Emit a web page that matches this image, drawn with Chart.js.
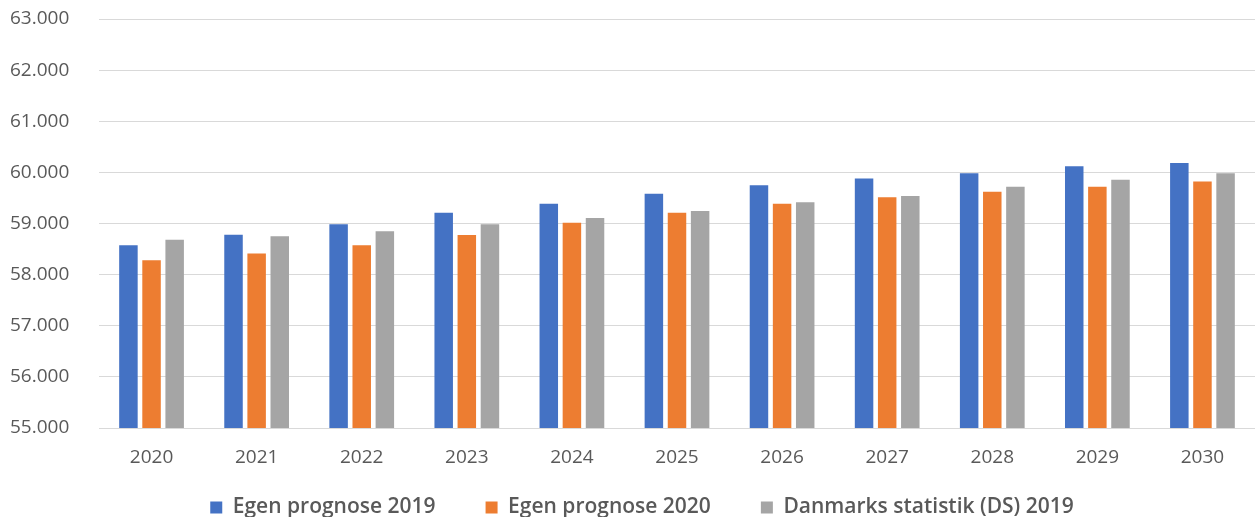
<!DOCTYPE html>
<html>
<head>
<meta charset="utf-8">
<script src="https://cdn.jsdelivr.net/npm/chart.js@4.4.1/dist/chart.umd.min.js"></script>
<style>
html,body{margin:0;padding:0;background:#fff;}
#wrap{width:1255px;height:517px;position:relative;}
</style>
</head>
<body>
<div id="wrap"><canvas id="c" width="1255" height="517"></canvas></div>
<script>
const categories = ['2020','2021','2022','2023','2024','2025','2026','2027','2028','2029','2030'];
const egen2019 = [58575, 58780, 58985, 59210, 59385, 59580, 59750, 59880, 59985, 60120, 60185];
const egen2020 = [58280, 58415, 58575, 58775, 59015, 59210, 59385, 59515, 59620, 59720, 59820];
const ds2019   = [58680, 58750, 58850, 58985, 59110, 59245, 59415, 59540, 59720, 59855, 59985];
const seriesNames = ['Egen prognose 2019', 'Egen prognose 2020', 'Danmarks statistik (DS) 2019'];
const colors = ['#4472C4', '#ED7D31', '#A5A5A5'];
const yMin = 55000, yMax = 63000, yStep = 1000;

function fmt(v){
  const s = Math.round(v).toString();
  return s.replace(/\B(?=(\d{3})+(?!\d))/g, '.');
}

const ds = [egen2019, egen2020, ds2019].map((d,i)=>({
  label: seriesNames[i],
  data: d,
  backgroundColor: colors[i],
  borderColor: '#ffffff',
  borderWidth: 0,
  categoryPercentage: 0.66,
  barPercentage: 0.8
}));

new Chart(document.getElementById('c'), {
  type: 'bar',
  data: { labels: categories, datasets: ds },
  options: {
    responsive: false,
    animation: false,
    layout: { padding: { left: 10, right: -19, top: 19, bottom: -11 } },
    plugins: {
      tooltip: { enabled: false },
      legend: {
        position: 'bottom',
        labels: {
          font: { family: 'Open Sans', size: 21, weight: '600' },
          color: '#595959',
          boxWidth: 12,
          boxHeight: 12,
          padding: 50
        }
      }
    },
    scales: {
      x: {
        afterFit: (s) => { s.height = 19; s._computeLabelArea = () => undefined; },
        grid: { display: false, drawTicks: false },
        border: { color: '#d9d9d9', width: 1 },
        ticks: { font: { family: 'Open Sans', size: 19 }, color: '#595959', padding: 18 }
      },
      y: {
        min: yMin, max: yMax,
        afterFit: (s) => { s.width = 89; },
        grid: { color: '#d9d9d9', lineWidth: 1, drawTicks: false },
        border: { display: false },
        ticks: {
          stepSize: yStep,
          font: { family: 'Open Sans', size: 19 },
          color: '#595959',
          padding: 0,
          crossAlign: 'far',
          callback: (v) => fmt(v)
        }
      }
    }
  }
});
</script>
</body>
</html>
